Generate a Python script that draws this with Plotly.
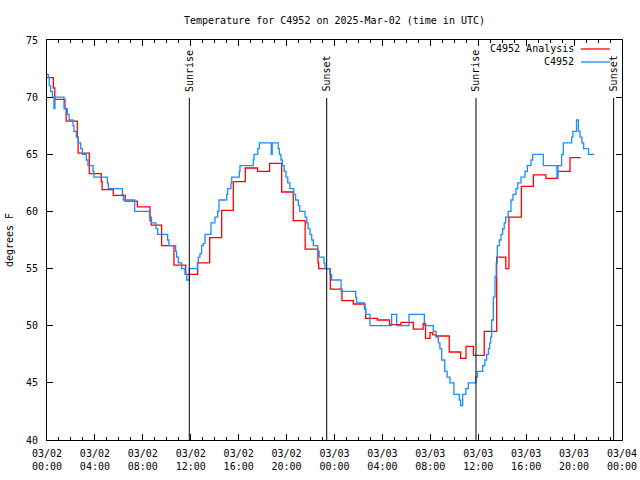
import pandas as pd
import plotly.graph_objects as go

# ---------------- data ----------------
title_text = "Temperature for C4952 on 2025-Mar-02 (time in UTC)"
y_title = "degrees F"
start_time = "2025-03-02 00:00"
end_time = "2025-03-04 00:00"

analysis_name = "C4952 Analysis"
analysis_hours = [0.00, 0.53, 0.65, 1.50, 1.60, 2.53, 2.60, 3.53, 4.53, 4.60, 5.53, 6.53,
                  7.54, 8.60, 8.70, 9.57, 10.60, 11.58, 12.58, 13.58, 14.58, 15.55, 16.55,
                  17.58, 18.58, 19.59, 20.56, 21.55, 22.62, 22.68, 23.65, 24.62, 25.57,
                  26.54, 26.60, 27.57, 28.60, 29.55, 30.58, 31.40, 31.60, 31.97, 32.20,
                  32.50, 33.58, 34.53, 34.98, 35.60, 36.50, 37.54, 38.30, 38.56, 39.60,
                  40.60, 41.65, 42.63, 43.66, 44.55]
analysis_temps = [71.7, 70.8, 69.8, 69.0, 67.9, 66.5, 65.1, 63.3, 62.6, 61.9, 61.4, 60.9,
                  60.4, 59.2, 58.8, 57.0, 55.3, 54.5, 55.5, 57.7, 60.1, 62.6, 63.8,
                  63.5, 64.2, 61.7, 59.2, 56.7, 55.5, 55.0, 53.2, 52.2, 51.9,
                  51.4, 50.65, 50.5, 50.1, 50.3, 49.7, 50.2, 48.9, 49.4, 49.2,
                  49.1, 47.7, 47.15, 48.2, 47.4, 49.5, 56.0, 55.0, 59.5, 62.2,
                  63.2, 62.9, 63.5, 64.7, 64.7]

obs_name = "C4952"
obs_hours = [0.00, 0.11, 0.19, 0.31, 0.45, 0.58, 0.66, 1.42, 1.70, 1.84, 2.17, 2.25,
             2.45, 2.62, 2.81, 2.95, 3.28, 3.42, 3.84, 3.92, 5.04, 5.12, 6.29, 6.37,
             7.32, 8.56, 8.72, 9.10, 9.24, 10.07, 10.18, 10.74, 10.82, 10.96, 11.24,
             11.52, 11.66, 11.88, 12.55, 12.63, 12.77, 12.91, 13.05, 13.19, 13.69,
             14.02, 14.25, 14.36, 15.00, 15.08, 15.36, 15.42, 16.05, 16.11, 17.22,
             17.28, 17.60, 17.72, 18.72, 18.80, 19.30, 19.40, 19.53, 19.65, 19.80,
             19.95, 20.10, 20.28, 20.60, 20.75, 20.98, 21.10, 21.54, 21.68, 21.80,
             21.95, 22.10, 22.23, 22.60, 22.72, 23.12, 23.20, 23.62, 23.76, 24.55,
             25.77, 25.85, 26.49, 26.60, 26.96, 28.77, 29.19, 30.22, 31.50, 32.25,
             32.47, 32.67, 32.80, 32.95, 33.20, 33.40, 33.64, 33.97, 34.42, 34.53,
             34.70, 34.97, 35.17, 35.80, 35.92, 36.37, 36.55, 36.70, 36.85, 36.95,
             37.04, 37.12, 37.26, 37.40, 37.50, 37.59, 37.76, 37.90, 38.04, 38.17,
             38.29, 38.50, 38.73, 38.90, 39.15, 39.30, 39.57, 39.90, 40.10, 40.40,
             40.54, 41.43, 42.57, 42.65, 42.96, 43.10, 43.80, 43.90, 44.20, 44.36,
             44.50, 44.65, 44.80, 45.20, 45.68]
obs_temps = [72.0, 71.7, 71.0, 70.5, 70.0, 69.0, 70.0, 69.0, 68.5, 68.0, 67.5, 67.0,
             66.5, 66.0, 65.5, 65.0, 64.5, 64.0, 63.5, 63.0, 62.5, 62.0, 61.5, 61.0,
             60.0, 59.5, 59.0, 58.5, 58.0, 57.5, 57.0, 56.5, 56.0, 55.5, 55.0,
             54.5, 54.0, 55.0, 55.5, 56.0, 56.3, 57.0, 57.2, 58.0, 59.0,
             59.5, 60.0, 61.0, 61.5, 62.0, 62.5, 63.0, 63.5, 64.0, 64.5,
             65.0, 65.5, 66.0, 65.0, 66.0, 65.5, 65.0, 64.5, 64.0, 63.5,
             63.0, 62.5, 62.0, 61.5, 61.0, 60.5, 60.0, 59.5, 59.0, 58.5,
             58.0, 57.5, 57.0, 56.5, 56.0, 55.5, 55.0, 54.5, 54.0, 53.0,
             52.5, 52.0, 51.5, 51.0, 50.0, 51.0, 50.0, 51.0, 50.0, 49.5,
             49.0, 48.5, 48.0, 47.0, 46.0, 45.5, 45.0, 44.0, 43.5, 43.0,
             44.0, 44.5, 45.0, 45.5, 46.0, 46.5, 47.0, 47.5, 48.0, 48.5,
             49.0, 50.5, 52.5, 54.3, 55.5, 57.0, 57.5, 58.0, 58.5, 59.0,
             59.5, 60.0, 61.0, 61.5, 62.0, 62.5, 63.0, 63.5, 64.0, 64.5,
             65.0, 64.0, 63.0, 64.0, 65.0, 66.0, 66.5, 67.0, 68.0, 67.0,
             66.5, 66.0, 65.5, 65.0, 65.0]

event_hours = [11.88, 23.35, 35.81, 47.30]
event_labels = ["Sunrise", "Sunset", "Sunrise", "Sunset"]

y_range = [40, 75]

# ---------------- styling ----------------
FONT = "DejaVu Sans Mono"
RED = "#ff0000"
BLUE = "#1a8cff"

base = pd.Timestamp(start_time)


def to_time(hours):
    return base + pd.to_timedelta(hours, unit="h")


fig = go.Figure()
fig.add_trace(go.Scatter(x=to_time(analysis_hours), y=analysis_temps, mode="lines",
                         line=dict(color=RED, width=1.3, shape="hv"), name=analysis_name,
                         showlegend=False, hoverinfo="skip"))
fig.add_trace(go.Scatter(x=to_time(obs_hours), y=obs_temps, mode="lines",
                         line=dict(color=BLUE, width=1.3, shape="hv"), name=obs_name,
                         showlegend=False, hoverinfo="skip"))

shapes = []
annotations = []
for h, lab in zip(event_hours, event_labels):
    t = str(to_time(h))
    shapes.append(dict(type="line", xref="x", yref="paper", x0=t, x1=t, y0=0, y1=0.855,
                       line=dict(color="black", width=1)))
    annotations.append(dict(text=lab, xref="x", yref="paper", x=t, y=0.868,
                            xanchor="center", yanchor="bottom", textangle=-90,
                            showarrow=False, font=dict(family=FONT, size=10, color="black"),
                            borderpad=0))

# manual gnuplot-style key (text then line sample)
for i, (nm, col) in enumerate([(analysis_name, RED), (obs_name, BLUE)]):
    yy = 0.9775 - i * 0.0325
    annotations.append(dict(text=nm, xref="paper", yref="paper", x=0.918, y=yy,
                            xanchor="right", yanchor="middle", showarrow=False,
                            font=dict(family=FONT, size=10, color="black"), borderpad=0))
    shapes.append(dict(type="line", xref="paper", yref="paper", x0=0.9287, x1=0.979,
                       y0=yy, y1=yy, line=dict(color=col, width=1.3)))

fig.update_layout(
    width=640, height=480,
    margin=dict(l=47, r=18, t=40, b=40, autoexpand=False),
    paper_bgcolor="white", plot_bgcolor="white",
    font=dict(family=FONT, size=10, color="black"),
    title=dict(text=title_text, x=0.5, xref="paper", y=1 - 20 / 480, yref="container",
               xanchor="center", yanchor="middle", font=dict(family=FONT, size=10)),
    shapes=shapes, annotations=annotations,
    showlegend=False, hovermode=False,
)
fig.update_xaxes(
    range=[start_time, end_time], type="date", automargin=False,
    dtick=4 * 3600000, tick0=start_time, tickformat="%m/%d<br>%H:%M",
    ticks="inside", ticklen=6, tickcolor="black", tickwidth=1,
    minor=dict(dtick=3600000, ticks="inside", ticklen=3, tickcolor="black", tickwidth=1),
    showline=True, linecolor="black", linewidth=1, mirror="ticks",
    showgrid=False, zeroline=False, ticklabelstandoff=4,
    tickfont=dict(family=FONT, size=10),
)
fig.update_yaxes(
    range=y_range, dtick=5, tick0=40, automargin=False,
    ticks="inside", ticklen=6, tickcolor="black", tickwidth=1,
    showline=True, linecolor="black", linewidth=1, mirror="ticks",
    showgrid=False, zeroline=False, ticklabelstandoff=6,
    tickfont=dict(family=FONT, size=10),
    title=dict(text=y_title, font=dict(family=FONT, size=10), standoff=10),
)

fig.write_html("out.html", config={"displayModeBar": False},
               post_script="document.body.style.margin='0';document.body.style.padding='0';")
